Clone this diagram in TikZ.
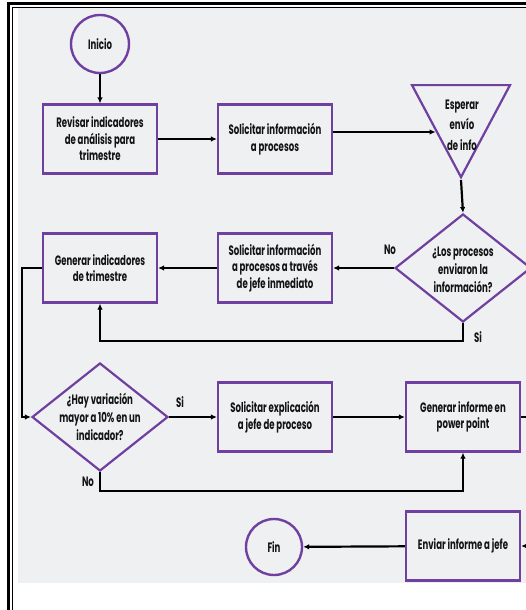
\documentclass[tikz,border=0pt]{standalone}
\usepackage{fontspec}
\setmainfont{Poppins}[FakeStretch=0.63]
\usetikzlibrary{shapes.geometric,arrows.meta,calc}
\definecolor{flowpurple}{RGB}{112,64,160}
\definecolor{panel}{RGB}{238,240,242}
\definecolor{ink}{RGB}{20,20,20}

\begin{document}
\begin{tikzpicture}[x=1pt,y=-1pt,
  txt/.style={font=\fontsize{13.6}{16.5}\selectfont\bfseries, text=ink, align=center},
  proc/.style={rectangle, draw=flowpurple, line width=2.2pt, fill=panel,
    minimum width=114pt, minimum height=69pt, inner sep=0pt, txt},
  term/.style={circle, draw=flowpurple, line width=2.4pt, fill=panel,
    minimum size=58pt, inner sep=0pt, txt},
  decision/.style={diamond, draw=flowpurple, line width=2.2pt, fill=panel,
    minimum width=136pt, minimum height=108pt, inner sep=0pt},
  waitbox/.style={isosceles triangle, isosceles triangle stretches,
    shape border rotate=270, draw=flowpurple, line width=2.2pt, fill=panel,
    minimum width=98pt, minimum height=92pt, inner sep=0pt},
  flow/.style={draw=black, line width=2.2pt, -{Latex[length=6pt,width=5.5pt]}},
  tag/.style={txt, inner sep=0pt}
]
\useasboundingbox (0,0) rectangle (526,610);
\begin{scope}
\clip (0,0) rectangle (526,610);

% page frame and panel
\fill[panel] (18,8) rectangle (540,583);
\draw[line width=3pt] (8.5,620) -- (8.5,4) -- (540,4);
\draw[line width=1pt] (12,620) -- (12,7.5) -- (540,7.5);

% nodes
\node[term] (ini) at (100,44) {Inicio};
\node[proc] (r1) at (100,139) {Revisar indicadores\\de análisis para\\trimestre};
\node[proc] (s1) at (275,139) {Solicitar información\\a procesos};
\node[waitbox, anchor=apex] (tri) at (461,180) {};
\node[tag, font=\fontsize{13.6}{20.5}\selectfont\bfseries] (tritxt) at (462,125) {Esperar\\envío\\de info};
\coordinate (triin) at ($(tri.apex)!0.5!(tri.right corner)$);

\node[decision] (d1) at (463,268) {};
\node[txt, font=\fontsize{13.6}{18}\selectfont\bfseries] (d1txt) at (463,270) {¿Los procesos\\enviaron la\\información?};
\node[proc] (s2) at (275,268) {Solicitar información\\a procesos a través\\de jefe inmediato};
\node[proc] (g1) at (100,268) {Generar indicadores\\de trimestre};

\node[decision] (d2) at (100,417) {};
\node[txt, font=\fontsize{13.6}{18}\selectfont\bfseries] (d2txt) at (100,417) {¿Hay variación\\mayor a 10\% en un\\indicador?};
\node[proc] (s3) at (275,417) {Solicitar explicación\\a jefe de proceso};
\node[proc] (g2) at (463,417) {Generar informe en\\power point};

\node[proc] (env) at (463,546) {Enviar informe a jefe};
\node[term, minimum size=56pt] (fin) at (274,547) {Fin};

% branch labels
\node[tag] (no1) at (390,250) {No};
\node[tag] (si1) at (478,337) {Si};
\node[tag] (si2) at (180,402) {Si};
\node[tag] (no2) at (88,482) {No};

% connectors
\draw[flow] (ini) -- (r1);
\draw[flow] (r1) -- (s1);
\draw[flow] (s1.east |- triin) -- (triin);
\draw[flow] (tri.apex) -- (d1.north);
\draw[flow] (d1.west) -- (s2.east);
\draw[flow] (s2) -- (g1);
\draw[flow] (d1.south) -- ++(0,18) -| (g1.south);
\draw[flow] (g1.west) -- (22,268) |- (d2.west);
\draw[flow] (d2.east) -- (s3.west);
\draw[flow] (s3) -- (g2);
\draw[flow] (d2.south) -- ++(0,19) -| (g2.south);
\draw[flow] (g2.east) -- (545,417) |- (env.east);
\draw[flow] (env) -- (fin);
\end{scope}
\end{tikzpicture}
\end{document}
